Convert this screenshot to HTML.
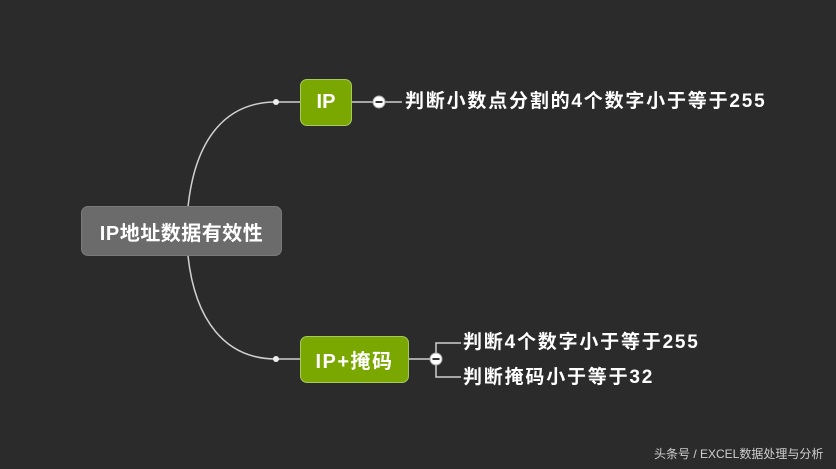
<!DOCTYPE html>
<html><head><meta charset="utf-8"><style>
html,body{margin:0;padding:0;}
body{width:836px;height:469px;background:#2b2b2b;position:relative;overflow:hidden;font-family:"Liberation Sans","Noto Sans CJK SC",sans-serif;}
.n{position:absolute;box-sizing:border-box;color:#fff;font-weight:bold;display:flex;align-items:center;justify-content:center;border-radius:7px;}
.t{position:absolute;color:#fff;font-weight:bold;font-size:19px;letter-spacing:1.8px;white-space:nowrap;line-height:20px;}
</style></head><body>
<svg width="836" height="469" style="position:absolute;left:0;top:0">
<g fill="none" stroke="#d0d0d0" stroke-width="1.5">
<path d="M188 207 C195 140,225 102,276 102"/>
<path d="M188 256 C195 320,225 359,276 359"/>
<line x1="276" y1="102" x2="300" y2="102"/>
<line x1="276" y1="359" x2="300" y2="359"/>
<line x1="352" y1="102" x2="402" y2="102"/>
<line x1="409" y1="359" x2="436" y2="359"/>
<path d="M436 359 V343 H461"/>
<path d="M436 359 V377 H461"/>
</g>
<circle cx="276" cy="102" r="3" fill="#eee"/>
<circle cx="276" cy="359" r="3" fill="#eee"/>
<circle cx="379" cy="102" r="6" fill="#fff" stroke="#aaa"/>
<line x1="375.5" y1="102" x2="382.5" y2="102" stroke="#333" stroke-width="2"/>
<circle cx="436" cy="359" r="6" fill="#fff" stroke="#aaa"/>
<line x1="432.5" y1="359" x2="439.5" y2="359" stroke="#333" stroke-width="2"/>
</svg>
<div class="n" style="left:81px;top:206px;width:201px;height:50px;background:#6b6b6b;border:1px solid #7a7a7a;font-size:20px;letter-spacing:0.5px;">IP地址数据有效性</div>
<div class="n" style="left:300px;top:79px;width:52px;height:47px;background:#7aa800;border:1px solid #a6c860;font-size:20px;">IP</div>
<div class="n" style="left:300px;top:336px;width:109px;height:47px;background:#7aa800;border:1px solid #a6c860;font-size:20px;letter-spacing:1.5px;">IP+掩码</div>
<div class="t" style="left:405px;top:92px;">判断小数点分割的4个数字小于等于255</div>
<div class="t" style="left:463px;top:333px;">判断4个数字小于等于255</div>
<div class="t" style="left:463px;top:368px;">判断掩码小于等于32</div>
<div style="position:absolute;left:654px;top:445px;color:#cfcfcf;font-size:12px;white-space:nowrap;">头条号 / EXCEL数据处理与分析</div>
</body></html>
